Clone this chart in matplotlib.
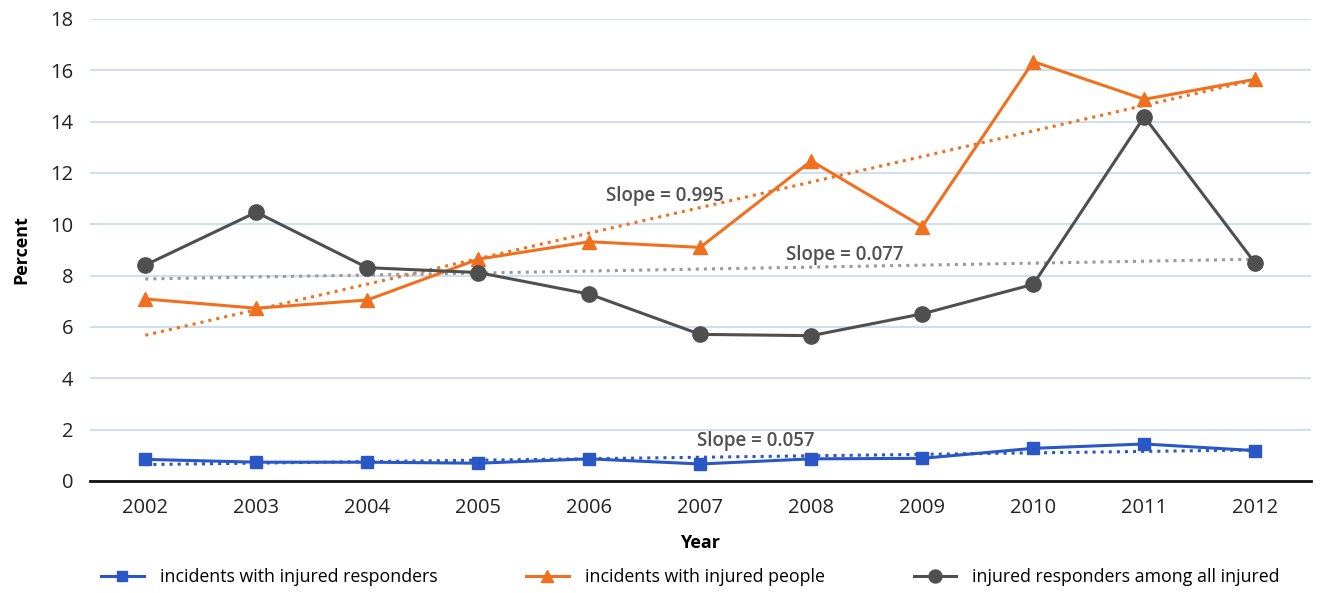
import numpy as np
import matplotlib
matplotlib.use('Agg')
import matplotlib.pyplot as plt

plt.rcParams['font.family'] = ['Open Sans', 'DejaVu Sans']

# Data
years = ['2002', '2003', '2004', '2005', '2006', '2007', '2008', '2009', '2010', '2011', '2012']
injured_responders = [0.84, 0.73, 0.73, 0.69, 0.86, 0.66, 0.86, 0.88, 1.27, 1.44, 1.18]
injured_people = [7.09, 6.73, 7.05, 8.64, 9.32, 9.10, 12.47, 9.91, 16.34, 14.87, 15.65]
responders_share = [8.41, 10.47, 8.31, 8.12, 7.28, 5.71, 5.66, 6.51, 7.66, 14.19, 8.48]

# Linear trend slopes (percentage points per year)
slope_responders = 0.057
slope_people = 0.995
slope_share = 0.077

blue = '#2A56C6'
orange = '#F0701F'
gray = '#4F4F4F'
label_color = '#505050'

x = np.arange(len(years))


def trend(values, slope):
    # least-squares intercept for a fixed slope
    values = np.asarray(values)
    intercept = values.mean() - slope * x.mean()
    return intercept + slope * x


fig = plt.figure(figsize=(13.2, 5.93), dpi=100)
ax = fig.add_axes([0.068, 0.189, 0.925, 0.779])

# trend lines
ax.plot(x, trend(injured_responders, slope_responders), color=blue, linestyle=':', lw=2.2, zorder=2)
ax.plot(x, trend(injured_people, slope_people), color=orange, linestyle=':', lw=2.2, zorder=2)
ax.plot(x, trend(responders_share, slope_share), color='#9A9A9A', linestyle=':', lw=2.2, zorder=2)

# series
ax.plot(x, injured_responders, color=blue, lw=2.2, marker='s', markersize=8,
        label='incidents with injured responders', zorder=3)
ax.plot(x, injured_people, color=orange, lw=2.2, marker='^', markersize=10,
        label='incidents with injured people', zorder=3)
ax.plot(x, responders_share, color=gray, lw=2.2, marker='o', markersize=11,
        label='injured responders among all injured', zorder=3)

# slope annotations
ax.text(4.68, 11.1, 'Slope = %.3f' % slope_people, color=label_color, fontsize=13.5,
        fontweight='semibold', ha='center', va='center', zorder=4)
ax.text(6.3, 8.8, 'Slope = %.3f' % slope_share, color=label_color, fontsize=13.5,
        fontweight='semibold', ha='center', va='center', zorder=4)
ax.text(5.5, 1.57, 'Slope = %.3f' % slope_responders, color=label_color, fontsize=13.5,
        fontweight='semibold', ha='center', va='center', zorder=4)

ax.set_xlim(-0.5, 10.5)
ax.set_ylim(0, 18)
ax.set_xticks(x)
ax.set_xticklabels(years)
ax.set_yticks(np.arange(0, 19, 2))
ax.tick_params(axis='both', length=0, labelsize=14.5, colors='#222222')
ax.tick_params(axis='x', pad=12)
ax.tick_params(axis='y', pad=12)

ax.yaxis.grid(True, color='#C5D9EF', lw=1.2)
ax.set_axisbelow(True)
for side in ['left', 'right', 'top']:
    ax.spines[side].set_visible(False)
ax.spines['bottom'].set_color('#111111')
ax.spines['bottom'].set_linewidth(2)

ax.set_ylabel('Percent', fontsize=13, fontweight='bold', labelpad=14)
ax.set_xlabel('Year', fontsize=13, fontweight='bold', labelpad=12)

fig.legend(*ax.get_legend_handles_labels(), loc='center', bbox_to_anchor=(0.523, 0.027),
           ncol=3, frameon=False, fontsize=12.8, columnspacing=5.0,
           handlelength=2.4, handletextpad=0.9, markerscale=0.85)

fig.savefig('out.png', dpi=100)
